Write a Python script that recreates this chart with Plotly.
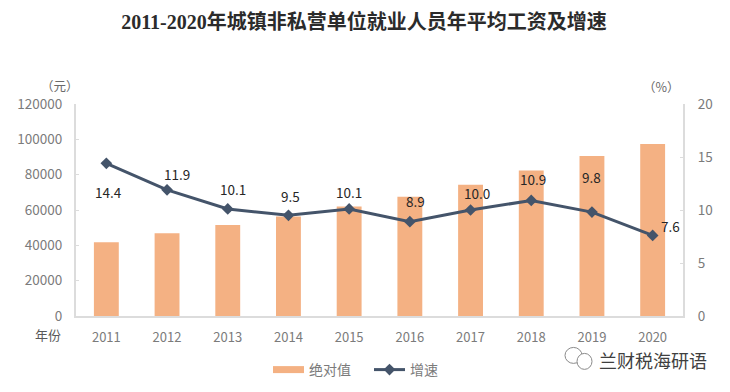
import plotly.graph_objects as go

years = ["2011", "2012", "2013", "2014", "2015", "2016", "2017", "2018", "2019", "2020"]
wages = [41799, 46769, 51483, 56360, 62029, 67569, 74318, 82413, 90501, 97379]
growth = [14.4, 11.9, 10.1, 9.5, 10.1, 8.9, 10.0, 10.9, 9.8, 7.6]
growth_labels = ["14.4", "11.9", "10.1", "9.5", "10.1", "8.9", "10.0", "10.9", "9.8", "7.6"]
label_dx = [2, 10, 5, 2, 0, 6, 6, 2, 0, 18]
label_dy = [29, -16, -20, -19, -17, -21, -17, -21, -35, -9]

CJK = "Noto Sans CJK SC"
TICK = "#7b7b7b"
AXIS = "#dcdcdc"
BAR = "#f4b183"
LINE = "#44546a"
L, R, T, B = 76, 683, 104, 316.5

def px_x(px):
    return (px - L) / (R - L)

def px_y(py):
    return (B - py) / (B - T)

fig = go.Figure()
fig.add_trace(go.Bar(x=years, y=wages, name="绝对值", marker=dict(color=BAR, line=dict(width=0)),
                     showlegend=False, yaxis="y"))
# legend key for the bars, wide like the reference swatch
fig.add_trace(go.Scatter(x=[years[0]], y=[None], mode="lines", name="绝对值",
                         line=dict(color=BAR, width=7), yaxis="y"))
fig.add_trace(go.Scatter(x=years, y=growth, mode="lines+markers", name="增速", yaxis="y2",
                         line=dict(color=LINE, width=3),
                         marker=dict(symbol="diamond", size=9, color=LINE)))

annotations = []
for i, (g, txt, dx, dy) in enumerate(zip(growth, growth_labels, label_dx, label_dy)):
    annotations.append(dict(x=i, y=g, xref="x", yref="y2", text=txt, showarrow=False,
                            xshift=dx, yshift=-dy, font=dict(size=13.5, color="#262626", family=CJK)))

def note(px, py, text, size=13, color=TICK, family=CJK):
    annotations.append(dict(x=px_x(px), y=px_y(py), xref="paper", yref="paper", text=text,
                            showarrow=False, xanchor="center", yanchor="middle",
                            font=dict(size=size, color=color, family=family)))

note(60, 85, "（元）", 12.5, "#6a6a6a")
note(661, 86, "（%）", 12.5, "#6a6a6a")
note(48, 335, "年份", 13, "#595959")
note(653, 361, "兰财税海研语", 18, "#3f3f3f")

# watermark icon
shapes = []
for x0, y0, x1, y1 in [(565, 348, 582, 364), (577, 354, 592, 370)]:
    shapes.append(dict(type="circle", xref="paper", yref="paper", x0=px_x(x0), x1=px_x(x1),
                       y0=px_y(y1), y1=px_y(y0), fillcolor="white",
                       line=dict(color="#8a8a8a", width=1)))

fig.update_layout(
    width=730, height=392, autosize=False,
    margin=dict(l=L, r=730 - R, t=T, b=392 - B, autoexpand=False),
    paper_bgcolor="white", plot_bgcolor="white",
    font=dict(family=CJK, size=13, color=TICK),
    title=dict(text="2011-2020年城镇非私营单位就业人员年平均工资及增速", x=364 / 730, xanchor="center",
               y=1 - 22 / 392, yanchor="middle",
               font=dict(family="Liberation Serif, " + CJK, size=20, color="#2b2b2b", weight="bold")),
    bargap=0.59,
    xaxis=dict(type="category", range=[-0.5, 9.5], showline=True, linecolor=AXIS, linewidth=2, ticks="",
               showgrid=False, tickfont=dict(size=13, color=TICK), ticklabelstandoff=8),
    yaxis=dict(range=[0, 120000], dtick=20000, tickformat="d", showgrid=False, showline=True, linecolor=AXIS,
               linewidth=2, ticks="inside", ticklen=3, tickcolor=AXIS, tickfont=dict(size=13.5, color=TICK),
               zeroline=False, ticklabelstandoff=9),
    yaxis2=dict(range=[0, 20], dtick=5, overlaying="y", side="right", showgrid=False, showline=True,
                linecolor=AXIS, linewidth=2, ticks="inside", ticklen=3, tickcolor=AXIS,
                tickfont=dict(size=13.5, color=TICK), zeroline=False, ticklabelstandoff=10),
    legend=dict(orientation="h", xref="container", yref="container", x=268 / 730, y=1 - 354 / 392,
                xanchor="left", yanchor="top", itemwidth=31, entrywidth=55, entrywidthmode="pixels",
                font=dict(size=14, color=TICK), bgcolor="rgba(0,0,0,0)", traceorder="normal"),
    annotations=annotations, shapes=shapes,
)

fig.write_html("out.html", post_script="document.body.style.margin='0';",
               config=dict(displayModeBar=False))
